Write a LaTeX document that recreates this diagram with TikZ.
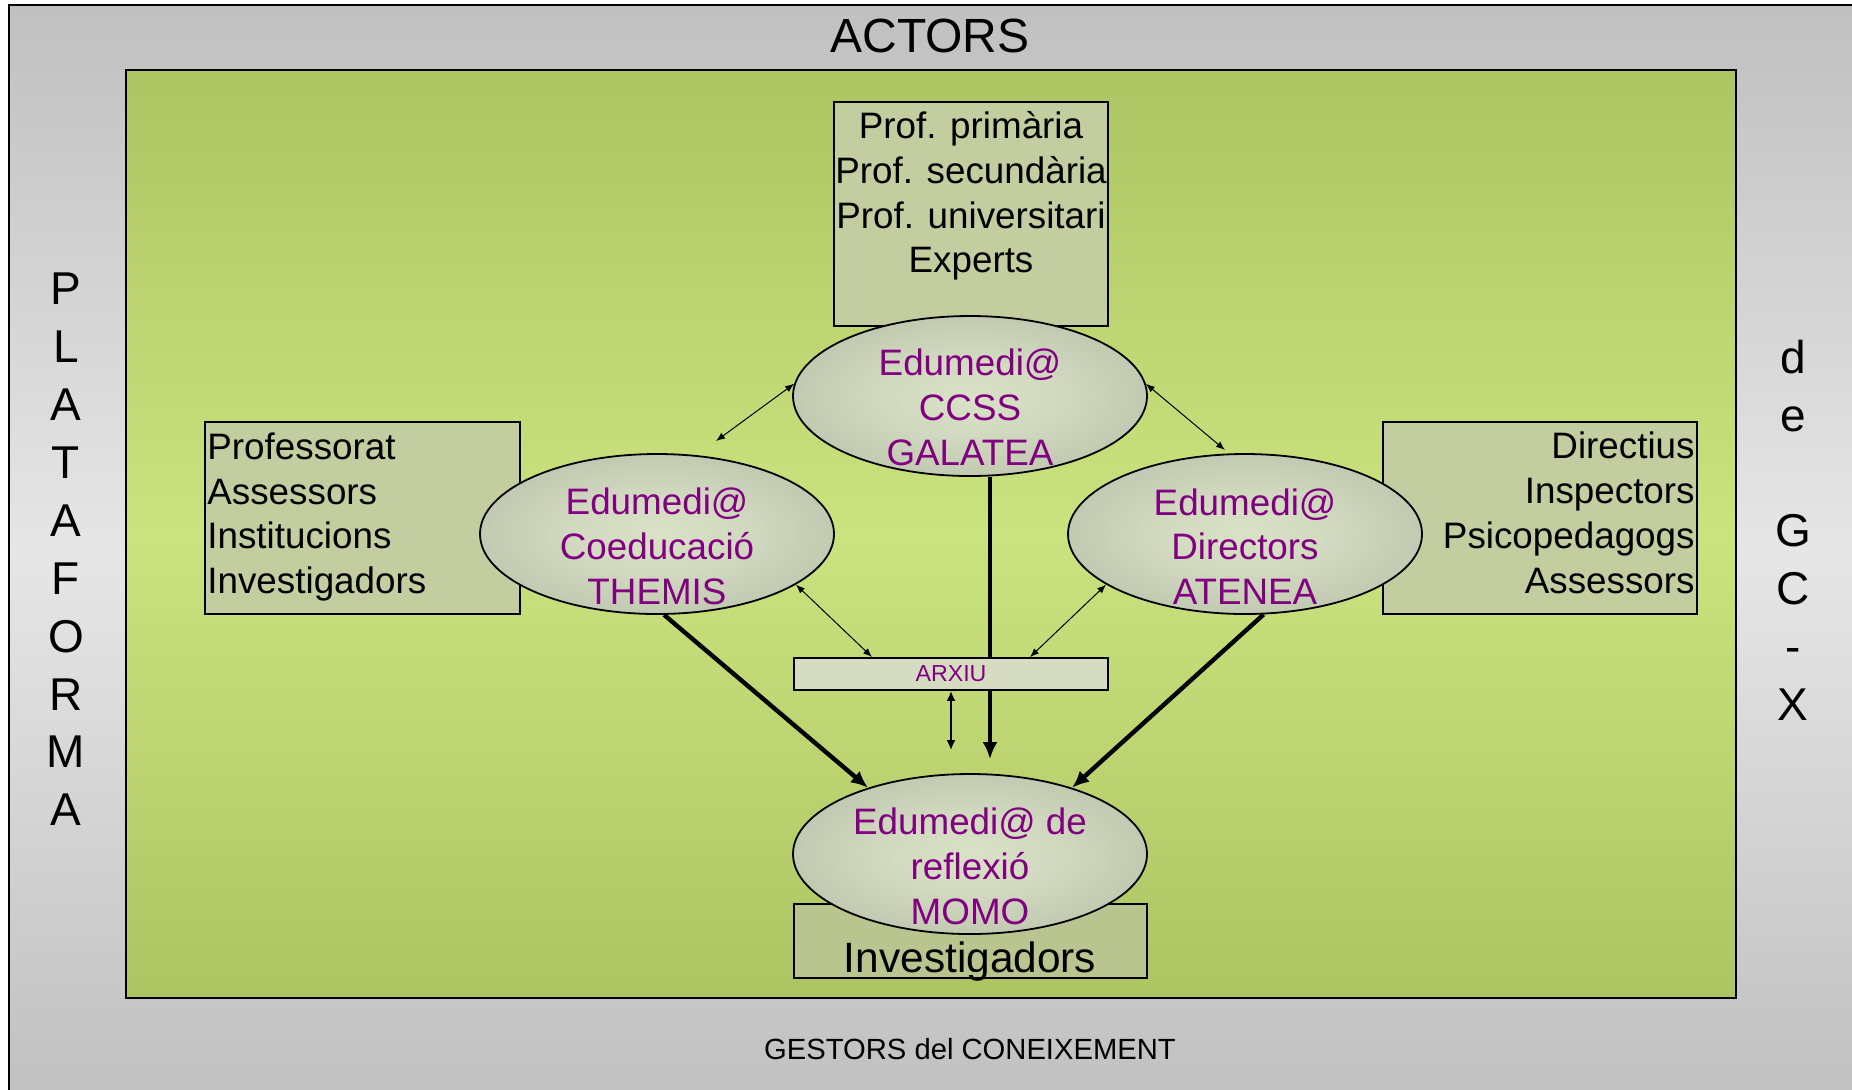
\documentclass[tikz,border=0pt]{standalone}
\usepackage{fontspec}
\setmainfont{Liberation Sans}
\usetikzlibrary{shapes.geometric,arrows.meta,calc}
\definecolor{purp}{HTML}{800080}
\definecolor{grayA}{HTML}{C0C0C0}
\definecolor{grayB}{HTML}{E6E6E6}
\definecolor{grnA}{HTML}{ADC462}
\definecolor{grnB}{HTML}{CBE37F}
\definecolor{ellin}{HTML}{D9E1C7}
\definecolor{ellout}{HTML}{B3BAA4}
\definecolor{boxfill}{HTML}{C4CD9F}
\definecolor{invfill}{HTML}{BAC48E}
\definecolor{arxfill}{HTML}{D5DCC2}
\pgfdeclareradialshading{ellshade}{\pgfpoint{0bp}{0bp}}{color(0bp)=(ellin); color(12bp)=(ellin!80!ellout); color(38bp)=(ellout); color(50bp)=(ellout)}
\pgfdeclarelayer{bg}
\pgfdeclarelayer{lines}
\pgfsetlayers{bg,lines,main}
\begin{document}
\begin{tikzpicture}[x=0.5pt,y=-0.5pt,
  ell/.style={ellipse, draw=black, line width=0.9pt, shading=ellshade,
    minimum width=177pt, minimum height=80pt, inner sep=0pt},
  etext/.style={text=purp, font=\fontsize{18.4}{22.4}\selectfont, align=center, inner sep=0pt},
  boxs/.style={draw=black, line width=0.9pt, fill=boxfill, inner sep=0pt},
  btext/.style={font=\fontsize{18.4}{22.4}\selectfont, inner sep=0pt},
  bigletter/.style={font=\fontsize{23}{28}\selectfont, inner sep=0pt, anchor=base},
  thinarrow/.style={line width=0.5pt, {Latex[length=4.5pt,width=3.5pt]}-{Latex[length=4.5pt,width=3.5pt]}},
  midarrow/.style={line width=1.1pt, {Latex[length=5pt,width=4.5pt]}-{Latex[length=5pt,width=4.5pt]}},
  thickarrow/.style={line width=2.2pt, -{Latex[length=8.5pt,width=7.5pt]}}
]
\useasboundingbox (0,0) rectangle (1852,1089);
\clip (0,0) rectangle (1852,1089);
\begin{pgfonlayer}{bg}
  \fill[white] (0,0) rectangle (1852,1089);
  \path[top color=grayA, bottom color=grayA, middle color=grayB] (9,5) rectangle (1870,1100);
  \draw[line width=1.2pt] (9,1100) -- (9,5) -- (1870,5);
  \path[draw=black, line width=1pt, top color=grnA, bottom color=grnA, middle color=grnB] (126,70) rectangle (1736,998);
\end{pgfonlayer}

% titles
\node[font=\fontsize{24}{28}\selectfont, inner sep=0pt, anchor=base] (actors) at (930,52.6) {ACTORS};
\node[font=\fontsize{14.6}{17}\selectfont, inner sep=0pt, anchor=base] (gestors) at (970,1059.5) {GESTORS del CONEIXEMENT};
\foreach \l [count=\i from 0] in {P,L,A,T,A,F,O,R,M,A}
  \node[bigletter] (pl\i) at (66,304.7+57.9*\i) {\l};
\foreach \l [count=\i from 0] in {d,e,{},G,C,-,X}
  \node[bigletter] (gc\i) at (1793,373.2+57.9*\i) {\l};

% boxes
\node[boxs, minimum width=137pt, minimum height=112pt] (topbox) at (971,214) {};
\node[btext, align=center] (toptext) at (971,196) {Prof. primària\\Prof. secundària\\Prof. universitari\\Experts};
\node[boxs, minimum width=157.5pt, minimum height=96pt] (leftbox) at (362.5,518) {};
\node[btext, align=left, anchor=west] (lefttext) at (207,517) {Professorat\\Assessors\\Institucions\\Investigadors};
\node[boxs, minimum width=157pt, minimum height=96pt] (rightbox) at (1540,518) {};
\node[btext, align=right, anchor=east] (righttext) at (1695,513) {Directius\\Inspectors\\Psicopedagogs\\Assessors};
\node[boxs, fill=invfill, minimum width=176.5pt, minimum height=37pt] (invbox) at (970.5,941) {};
\node[font=\fontsize{21.2}{25}\selectfont, inner sep=0pt, anchor=base] (invtext) at (970,972) {Investigadors};
\node[boxs, fill=arxfill, minimum width=157pt, minimum height=16pt, text=purp, font=\fontsize{11.6}{13}\selectfont] (arxiu) at (951,674) {ARXIU};

% ellipses
\node[ell] (gal) at (970,396) {};
\node[etext] (galtext) at (970,407.5) {Edumedi@\\CCSS\\GALATEA};
\node[ell] (themis) at (657,534) {};
\node[etext] (themistext) at (657,546.5) {Edumedi@\\Coeducació\\THEMIS};
\node[ell] (atenea) at (1245,534) {};
\node[etext] (ateneatext) at (1245,546.5) {Edumedi@\\Directors\\ATENEA};
\node[ell] (momo) at (970,854) {};
\node[etext] (momotext) at (970,866.5) {Edumedi@ de\\reflexió\\MOMO};

% free ends
\coordinate (fThem) at (716,441);
\coordinate (fAten) at (1225,450);

\begin{pgfonlayer}{lines}
  \draw[thinarrow] (gal.176) -- (fThem);
  \draw[thinarrow] (gal.4) -- (fAten);
  \draw[thinarrow] (themis.340) -- ($(arxiu.north west)!0.25!(arxiu.north east)$);
  \draw[thinarrow] (atenea.200) -- ($(arxiu.north west)!0.75!(arxiu.north east)$);
  \draw[thickarrow] ([xshift=10pt]gal.south) -- ([xshift=10pt,yshift=7pt]momo.north);
  \draw[midarrow] (arxiu.south) -- ($(momo.north)+(-19,-23)$);
  \draw[thickarrow] (themis.-85) -- (momo.147);
  \draw[thickarrow] (atenea.-77) -- (momo.33);
\end{pgfonlayer}
\end{tikzpicture}
\end{document}
